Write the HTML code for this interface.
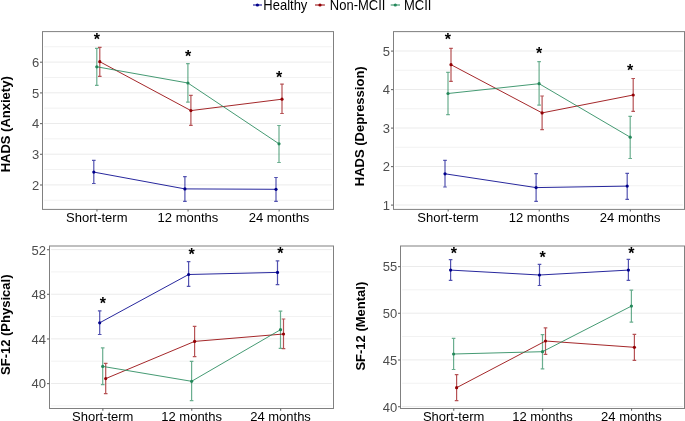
<!DOCTYPE html><html><head><meta charset="utf-8"><style>html,body{margin:0;padding:0;background:#fff;}svg{display:block;will-change:transform;}text{font-family:"Liberation Sans",sans-serif;}</style></head><body>
<svg width="685" height="421" viewBox="0 0 685 421">
<rect x="0" y="0" width="685" height="421" fill="#fff"/>
<line x1="44.1" x2="331.8" y1="200.25" y2="200.25" stroke="#F2F2F2" stroke-width="1"/>
<line x1="44.1" x2="331.8" y1="169.55" y2="169.55" stroke="#F2F2F2" stroke-width="1"/>
<line x1="44.1" x2="331.8" y1="138.85" y2="138.85" stroke="#F2F2F2" stroke-width="1"/>
<line x1="44.1" x2="331.8" y1="108.15" y2="108.15" stroke="#F2F2F2" stroke-width="1"/>
<line x1="44.1" x2="331.8" y1="77.45" y2="77.45" stroke="#F2F2F2" stroke-width="1"/>
<line x1="44.1" x2="331.8" y1="46.75" y2="46.75" stroke="#F2F2F2" stroke-width="1"/>
<line x1="44.1" x2="331.8" y1="184.9" y2="184.9" stroke="#EBEBEB" stroke-width="1"/>
<line x1="44.1" x2="331.8" y1="154.2" y2="154.2" stroke="#EBEBEB" stroke-width="1"/>
<line x1="44.1" x2="331.8" y1="123.5" y2="123.5" stroke="#EBEBEB" stroke-width="1"/>
<line x1="44.1" x2="331.8" y1="92.8" y2="92.8" stroke="#EBEBEB" stroke-width="1"/>
<line x1="44.1" x2="331.8" y1="62.1" y2="62.1" stroke="#EBEBEB" stroke-width="1"/>
<g stroke="#00008B" stroke-opacity="0.68" stroke-width="1.2" fill="none"><path d="M93.8 160.4V183.5M92 160.4H95.6M92 183.5H95.6"/></g>
<g stroke="#00008B" stroke-opacity="0.68" stroke-width="1.2" fill="none"><path d="M184.9 176.6V201.3M183.1 176.6H186.7M183.1 201.3H186.7"/></g>
<g stroke="#00008B" stroke-opacity="0.68" stroke-width="1.2" fill="none"><path d="M276 177.5V201.3M274.2 177.5H277.8M274.2 201.3H277.8"/></g>
<g stroke="#930004" stroke-opacity="0.68" stroke-width="1.2" fill="none"><path d="M99.8 47.4V76.3M98 47.4H101.6M98 76.3H101.6"/></g>
<g stroke="#930004" stroke-opacity="0.68" stroke-width="1.2" fill="none"><path d="M190.9 95.4V125.4M189.1 95.4H192.7M189.1 125.4H192.7"/></g>
<g stroke="#930004" stroke-opacity="0.68" stroke-width="1.2" fill="none"><path d="M282 84.2V113.5M280.2 84.2H283.8M280.2 113.5H283.8"/></g>
<g stroke="#24885A" stroke-opacity="0.68" stroke-width="1.2" fill="none"><path d="M96.8 48.3V85.3M95 48.3H98.6M95 85.3H98.6"/></g>
<g stroke="#24885A" stroke-opacity="0.68" stroke-width="1.2" fill="none"><path d="M187.9 63.7V102.2M186.1 63.7H189.7M186.1 102.2H189.7"/></g>
<g stroke="#24885A" stroke-opacity="0.68" stroke-width="1.2" fill="none"><path d="M279 125.5V162.5M277.2 125.5H280.8M277.2 162.5H280.8"/></g>
<polyline points="93.8,172.1 184.9,188.9 276,189.3" fill="none" stroke="#00008B" stroke-width="0.85"/>
<polyline points="99.8,61.7 190.9,110.6 282,99.2" fill="none" stroke="#930004" stroke-width="0.85"/>
<polyline points="96.8,66.8 187.9,83 279,143.8" fill="none" stroke="#24885A" stroke-width="0.85"/>
<circle cx="93.8" cy="172.1" r="1.6" fill="#00008B"/>
<circle cx="184.9" cy="188.9" r="1.6" fill="#00008B"/>
<circle cx="276" cy="189.3" r="1.6" fill="#00008B"/>
<circle cx="99.8" cy="61.7" r="1.6" fill="#930004"/>
<circle cx="190.9" cy="110.6" r="1.6" fill="#930004"/>
<circle cx="282" cy="99.2" r="1.6" fill="#930004"/>
<circle cx="96.8" cy="66.8" r="1.6" fill="#24885A"/>
<circle cx="187.9" cy="83" r="1.6" fill="#24885A"/>
<circle cx="279" cy="143.8" r="1.6" fill="#24885A"/>
<rect x="42.5" y="31.6" width="291" height="177.8" fill="none" stroke="#808080" stroke-width="1"/>
<line x1="40" x2="42.5" y1="185" y2="185" stroke="#6a6a6a" stroke-width="1.1"/>
<text transform="translate(39.3 189.8) scale(1.0000 1)" font-size="13" fill="#4D4D4D" text-anchor="end">2</text>
<line x1="40" x2="42.5" y1="154.3" y2="154.3" stroke="#6a6a6a" stroke-width="1.1"/>
<text transform="translate(39.3 159.1) scale(1.0000 1)" font-size="13" fill="#4D4D4D" text-anchor="end">3</text>
<line x1="40" x2="42.5" y1="123.6" y2="123.6" stroke="#6a6a6a" stroke-width="1.1"/>
<text transform="translate(39.3 128.4) scale(1.0000 1)" font-size="13" fill="#4D4D4D" text-anchor="end">4</text>
<line x1="40" x2="42.5" y1="92.9" y2="92.9" stroke="#6a6a6a" stroke-width="1.1"/>
<text transform="translate(39.3 97.7) scale(1.0000 1)" font-size="13" fill="#4D4D4D" text-anchor="end">5</text>
<line x1="40" x2="42.5" y1="62.2" y2="62.2" stroke="#6a6a6a" stroke-width="1.1"/>
<text transform="translate(39.3 67) scale(1.0000 1)" font-size="13" fill="#4D4D4D" text-anchor="end">6</text>
<line x1="96.95" x2="96.95" y1="209.4" y2="211.6" stroke="#6a6a6a" stroke-width="1.1"/>
<text transform="translate(96.8 222) scale(1.0000 1)" font-size="13" fill="#000" text-anchor="middle">Short-term</text>
<line x1="188.05" x2="188.05" y1="209.4" y2="211.6" stroke="#6a6a6a" stroke-width="1.1"/>
<text transform="translate(187.9 222) scale(1.0000 1)" font-size="13" fill="#000" text-anchor="middle">12 months</text>
<line x1="279.15" x2="279.15" y1="209.4" y2="211.6" stroke="#6a6a6a" stroke-width="1.1"/>
<text transform="translate(279 222) scale(1.0000 1)" font-size="13" fill="#000" text-anchor="middle">24 months</text>
<text x="96.9" y="44.98" font-size="16" font-weight="bold" fill="#000" text-anchor="middle">*</text>
<text x="188" y="61.73" font-size="16" font-weight="bold" fill="#000" text-anchor="middle">*</text>
<text x="279" y="82.58" font-size="16" font-weight="bold" fill="#000" text-anchor="middle">*</text>
<text transform="translate(10 124.3) rotate(-90)" font-size="13" font-weight="bold" fill="#000" text-anchor="middle">HADS (Anxiety)</text>
<line x1="395.1" x2="682.8" y1="185.75" y2="185.75" stroke="#F2F2F2" stroke-width="1"/>
<line x1="395.1" x2="682.8" y1="147.25" y2="147.25" stroke="#F2F2F2" stroke-width="1"/>
<line x1="395.1" x2="682.8" y1="108.75" y2="108.75" stroke="#F2F2F2" stroke-width="1"/>
<line x1="395.1" x2="682.8" y1="70.25" y2="70.25" stroke="#F2F2F2" stroke-width="1"/>
<line x1="395.1" x2="682.8" y1="31.75" y2="31.75" stroke="#F2F2F2" stroke-width="1"/>
<line x1="395.1" x2="682.8" y1="205" y2="205" stroke="#EBEBEB" stroke-width="1"/>
<line x1="395.1" x2="682.8" y1="166.5" y2="166.5" stroke="#EBEBEB" stroke-width="1"/>
<line x1="395.1" x2="682.8" y1="128" y2="128" stroke="#EBEBEB" stroke-width="1"/>
<line x1="395.1" x2="682.8" y1="89.5" y2="89.5" stroke="#EBEBEB" stroke-width="1"/>
<line x1="395.1" x2="682.8" y1="51" y2="51" stroke="#EBEBEB" stroke-width="1"/>
<g stroke="#00008B" stroke-opacity="0.68" stroke-width="1.2" fill="none"><path d="M445 160.4V187M443.2 160.4H446.8M443.2 187H446.8"/></g>
<g stroke="#00008B" stroke-opacity="0.68" stroke-width="1.2" fill="none"><path d="M536.1 173.7V201.3M534.3 173.7H537.9M534.3 201.3H537.9"/></g>
<g stroke="#00008B" stroke-opacity="0.68" stroke-width="1.2" fill="none"><path d="M627.2 173.3V199.4M625.4 173.3H629M625.4 199.4H629"/></g>
<g stroke="#930004" stroke-opacity="0.68" stroke-width="1.2" fill="none"><path d="M451 48.4V81.3M449.2 48.4H452.8M449.2 81.3H452.8"/></g>
<g stroke="#930004" stroke-opacity="0.68" stroke-width="1.2" fill="none"><path d="M542.1 96V129.6M540.3 96H543.9M540.3 129.6H543.9"/></g>
<g stroke="#930004" stroke-opacity="0.68" stroke-width="1.2" fill="none"><path d="M633.2 78.5V111.3M631.4 78.5H635M631.4 111.3H635"/></g>
<g stroke="#24885A" stroke-opacity="0.68" stroke-width="1.2" fill="none"><path d="M448 72.4V114.6M446.2 72.4H449.8M446.2 114.6H449.8"/></g>
<g stroke="#24885A" stroke-opacity="0.68" stroke-width="1.2" fill="none"><path d="M539.1 61.7V105.2M537.3 61.7H540.9M537.3 105.2H540.9"/></g>
<g stroke="#24885A" stroke-opacity="0.68" stroke-width="1.2" fill="none"><path d="M630.2 116.3V158.5M628.4 116.3H632M628.4 158.5H632"/></g>
<polyline points="445,173.8 536.1,187.6 627.2,186.1" fill="none" stroke="#00008B" stroke-width="0.85"/>
<polyline points="451,64.7 542.1,112.9 633.2,95" fill="none" stroke="#930004" stroke-width="0.85"/>
<polyline points="448,93.5 539.1,83.7 630.2,137.2" fill="none" stroke="#24885A" stroke-width="0.85"/>
<circle cx="445" cy="173.8" r="1.6" fill="#00008B"/>
<circle cx="536.1" cy="187.6" r="1.6" fill="#00008B"/>
<circle cx="627.2" cy="186.1" r="1.6" fill="#00008B"/>
<circle cx="451" cy="64.7" r="1.6" fill="#930004"/>
<circle cx="542.1" cy="112.9" r="1.6" fill="#930004"/>
<circle cx="633.2" cy="95" r="1.6" fill="#930004"/>
<circle cx="448" cy="93.5" r="1.6" fill="#24885A"/>
<circle cx="539.1" cy="83.7" r="1.6" fill="#24885A"/>
<circle cx="630.2" cy="137.2" r="1.6" fill="#24885A"/>
<rect x="393.5" y="31.6" width="291" height="177.8" fill="none" stroke="#808080" stroke-width="1"/>
<line x1="391" x2="393.5" y1="205.1" y2="205.1" stroke="#6a6a6a" stroke-width="1.1"/>
<text transform="translate(389.9 209.9) scale(1.0000 1)" font-size="13" fill="#4D4D4D" text-anchor="end">1</text>
<line x1="391" x2="393.5" y1="166.6" y2="166.6" stroke="#6a6a6a" stroke-width="1.1"/>
<text transform="translate(389.9 171.4) scale(1.0000 1)" font-size="13" fill="#4D4D4D" text-anchor="end">2</text>
<line x1="391" x2="393.5" y1="128.1" y2="128.1" stroke="#6a6a6a" stroke-width="1.1"/>
<text transform="translate(389.9 132.9) scale(1.0000 1)" font-size="13" fill="#4D4D4D" text-anchor="end">3</text>
<line x1="391" x2="393.5" y1="89.6" y2="89.6" stroke="#6a6a6a" stroke-width="1.1"/>
<text transform="translate(389.9 94.4) scale(1.0000 1)" font-size="13" fill="#4D4D4D" text-anchor="end">4</text>
<line x1="391" x2="393.5" y1="51.1" y2="51.1" stroke="#6a6a6a" stroke-width="1.1"/>
<text transform="translate(389.9 55.9) scale(1.0000 1)" font-size="13" fill="#4D4D4D" text-anchor="end">5</text>
<line x1="448.15" x2="448.15" y1="209.4" y2="211.6" stroke="#6a6a6a" stroke-width="1.1"/>
<text transform="translate(448 222) scale(1.0000 1)" font-size="13" fill="#000" text-anchor="middle">Short-term</text>
<line x1="539.25" x2="539.25" y1="209.4" y2="211.6" stroke="#6a6a6a" stroke-width="1.1"/>
<text transform="translate(539.1 222) scale(1.0000 1)" font-size="13" fill="#000" text-anchor="middle">12 months</text>
<line x1="630.35" x2="630.35" y1="209.4" y2="211.6" stroke="#6a6a6a" stroke-width="1.1"/>
<text transform="translate(630.2 222) scale(1.0000 1)" font-size="13" fill="#000" text-anchor="middle">24 months</text>
<text x="447.9" y="44.98" font-size="16" font-weight="bold" fill="#000" text-anchor="middle">*</text>
<text x="539" y="58.68" font-size="16" font-weight="bold" fill="#000" text-anchor="middle">*</text>
<text x="630" y="75.78" font-size="16" font-weight="bold" fill="#000" text-anchor="middle">*</text>
<text transform="translate(364.4 126.3) rotate(-90)" font-size="13" font-weight="bold" fill="#000" text-anchor="middle">HADS (Depression)</text>
<line x1="51.1" x2="331.8" y1="405.81" y2="405.81" stroke="#F2F2F2" stroke-width="1"/>
<line x1="51.1" x2="331.8" y1="361.18" y2="361.18" stroke="#F2F2F2" stroke-width="1"/>
<line x1="51.1" x2="331.8" y1="316.55" y2="316.55" stroke="#F2F2F2" stroke-width="1"/>
<line x1="51.1" x2="331.8" y1="271.92" y2="271.92" stroke="#F2F2F2" stroke-width="1"/>
<line x1="51.1" x2="331.8" y1="383.5" y2="383.5" stroke="#EBEBEB" stroke-width="1"/>
<line x1="51.1" x2="331.8" y1="338.86" y2="338.86" stroke="#EBEBEB" stroke-width="1"/>
<line x1="51.1" x2="331.8" y1="294.23" y2="294.23" stroke="#EBEBEB" stroke-width="1"/>
<line x1="51.1" x2="331.8" y1="249.6" y2="249.6" stroke="#EBEBEB" stroke-width="1"/>
<g stroke="#00008B" stroke-opacity="0.68" stroke-width="1.2" fill="none"><path d="M99.7 310.8V334.5M97.9 310.8H101.5M97.9 334.5H101.5"/></g>
<g stroke="#00008B" stroke-opacity="0.68" stroke-width="1.2" fill="none"><path d="M188.6 261.7V286.3M186.8 261.7H190.4M186.8 286.3H190.4"/></g>
<g stroke="#00008B" stroke-opacity="0.68" stroke-width="1.2" fill="none"><path d="M277.5 260.8V284.6M275.7 260.8H279.3M275.7 284.6H279.3"/></g>
<g stroke="#930004" stroke-opacity="0.68" stroke-width="1.2" fill="none"><path d="M105.7 363.3V393.6M103.9 363.3H107.5M103.9 393.6H107.5"/></g>
<g stroke="#930004" stroke-opacity="0.68" stroke-width="1.2" fill="none"><path d="M194.6 326.3V356.6M192.8 326.3H196.4M192.8 356.6H196.4"/></g>
<g stroke="#930004" stroke-opacity="0.68" stroke-width="1.2" fill="none"><path d="M283.5 319V348.6M281.7 319H285.3M281.7 348.6H285.3"/></g>
<g stroke="#24885A" stroke-opacity="0.68" stroke-width="1.2" fill="none"><path d="M102.7 347.9V384.7M100.9 347.9H104.5M100.9 384.7H104.5"/></g>
<g stroke="#24885A" stroke-opacity="0.68" stroke-width="1.2" fill="none"><path d="M191.6 361.3V400.6M189.8 361.3H193.4M189.8 400.6H193.4"/></g>
<g stroke="#24885A" stroke-opacity="0.68" stroke-width="1.2" fill="none"><path d="M280.5 311.1V348.3M278.7 311.1H282.3M278.7 348.3H282.3"/></g>
<polyline points="99.7,322.8 188.6,274.5 277.5,272.4" fill="none" stroke="#00008B" stroke-width="0.85"/>
<polyline points="105.7,378.6 194.6,341.4 283.5,334" fill="none" stroke="#930004" stroke-width="0.85"/>
<polyline points="102.7,366.4 191.6,381.3 280.5,329.7" fill="none" stroke="#24885A" stroke-width="0.85"/>
<circle cx="99.7" cy="322.8" r="1.6" fill="#00008B"/>
<circle cx="188.6" cy="274.5" r="1.6" fill="#00008B"/>
<circle cx="277.5" cy="272.4" r="1.6" fill="#00008B"/>
<circle cx="105.7" cy="378.6" r="1.6" fill="#930004"/>
<circle cx="194.6" cy="341.4" r="1.6" fill="#930004"/>
<circle cx="283.5" cy="334" r="1.6" fill="#930004"/>
<circle cx="102.7" cy="366.4" r="1.6" fill="#24885A"/>
<circle cx="191.6" cy="381.3" r="1.6" fill="#24885A"/>
<circle cx="280.5" cy="329.7" r="1.6" fill="#24885A"/>
<rect x="49.5" y="246" width="284" height="162.5" fill="none" stroke="#808080" stroke-width="1"/>
<line x1="47" x2="49.5" y1="383.6" y2="383.6" stroke="#6a6a6a" stroke-width="1.1"/>
<text transform="translate(45.9 388.4) scale(1.0000 1)" font-size="13" fill="#4D4D4D" text-anchor="end">40</text>
<line x1="47" x2="49.5" y1="338.96" y2="338.96" stroke="#6a6a6a" stroke-width="1.1"/>
<text transform="translate(45.9 343.76) scale(1.0000 1)" font-size="13" fill="#4D4D4D" text-anchor="end">44</text>
<line x1="47" x2="49.5" y1="294.33" y2="294.33" stroke="#6a6a6a" stroke-width="1.1"/>
<text transform="translate(45.9 299.13) scale(1.0000 1)" font-size="13" fill="#4D4D4D" text-anchor="end">48</text>
<line x1="47" x2="49.5" y1="249.7" y2="249.7" stroke="#6a6a6a" stroke-width="1.1"/>
<text transform="translate(45.9 254.5) scale(1.0000 1)" font-size="13" fill="#4D4D4D" text-anchor="end">52</text>
<line x1="102.85" x2="102.85" y1="408.5" y2="410.7" stroke="#6a6a6a" stroke-width="1.1"/>
<text transform="translate(102.7 420.9) scale(1.0000 1)" font-size="13" fill="#000" text-anchor="middle">Short-term</text>
<line x1="191.75" x2="191.75" y1="408.5" y2="410.7" stroke="#6a6a6a" stroke-width="1.1"/>
<text transform="translate(191.6 420.9) scale(1.0000 1)" font-size="13" fill="#000" text-anchor="middle">12 months</text>
<line x1="280.65" x2="280.65" y1="408.5" y2="410.7" stroke="#6a6a6a" stroke-width="1.1"/>
<text transform="translate(280.5 420.9) scale(1.0000 1)" font-size="13" fill="#000" text-anchor="middle">24 months</text>
<text x="102.85" y="308.88" font-size="16" font-weight="bold" fill="#000" text-anchor="middle">*</text>
<text x="191.6" y="259.73" font-size="16" font-weight="bold" fill="#000" text-anchor="middle">*</text>
<text x="280.45" y="258.78" font-size="16" font-weight="bold" fill="#000" text-anchor="middle">*</text>
<text transform="translate(10 324.75) rotate(-90)" font-size="13" font-weight="bold" fill="#000" text-anchor="middle">SF-12 (Physical)</text>
<line x1="402.1" x2="682.8" y1="383.25" y2="383.25" stroke="#F2F2F2" stroke-width="1"/>
<line x1="402.1" x2="682.8" y1="336.55" y2="336.55" stroke="#F2F2F2" stroke-width="1"/>
<line x1="402.1" x2="682.8" y1="289.85" y2="289.85" stroke="#F2F2F2" stroke-width="1"/>
<line x1="402.1" x2="682.8" y1="406.6" y2="406.6" stroke="#EBEBEB" stroke-width="1"/>
<line x1="402.1" x2="682.8" y1="359.9" y2="359.9" stroke="#EBEBEB" stroke-width="1"/>
<line x1="402.1" x2="682.8" y1="313.2" y2="313.2" stroke="#EBEBEB" stroke-width="1"/>
<line x1="402.1" x2="682.8" y1="266.5" y2="266.5" stroke="#EBEBEB" stroke-width="1"/>
<g stroke="#00008B" stroke-opacity="0.68" stroke-width="1.2" fill="none"><path d="M450.6 259.6V280.4M448.8 259.6H452.4M448.8 280.4H452.4"/></g>
<g stroke="#00008B" stroke-opacity="0.68" stroke-width="1.2" fill="none"><path d="M539.5 264.4V285.5M537.7 264.4H541.3M537.7 285.5H541.3"/></g>
<g stroke="#00008B" stroke-opacity="0.68" stroke-width="1.2" fill="none"><path d="M628.4 259.4V280.4M626.6 259.4H630.2M626.6 280.4H630.2"/></g>
<g stroke="#930004" stroke-opacity="0.68" stroke-width="1.2" fill="none"><path d="M456.6 374.6V400.7M454.8 374.6H458.4M454.8 400.7H458.4"/></g>
<g stroke="#930004" stroke-opacity="0.68" stroke-width="1.2" fill="none"><path d="M545.5 327.8V354.3M543.7 327.8H547.3M543.7 354.3H547.3"/></g>
<g stroke="#930004" stroke-opacity="0.68" stroke-width="1.2" fill="none"><path d="M634.4 334.3V360.3M632.6 334.3H636.2M632.6 360.3H636.2"/></g>
<g stroke="#24885A" stroke-opacity="0.68" stroke-width="1.2" fill="none"><path d="M453.6 338.3V369.5M451.8 338.3H455.4M451.8 369.5H455.4"/></g>
<g stroke="#24885A" stroke-opacity="0.68" stroke-width="1.2" fill="none"><path d="M542.5 334.6V368.9M540.7 334.6H544.3M540.7 368.9H544.3"/></g>
<g stroke="#24885A" stroke-opacity="0.68" stroke-width="1.2" fill="none"><path d="M631.4 290.1V322.1M629.6 290.1H633.2M629.6 322.1H633.2"/></g>
<polyline points="450.6,270.1 539.5,275 628.4,270.1" fill="none" stroke="#00008B" stroke-width="0.85"/>
<polyline points="456.6,387.7 545.5,341 634.4,347.3" fill="none" stroke="#930004" stroke-width="0.85"/>
<polyline points="453.6,354 542.5,351.7 631.4,306.1" fill="none" stroke="#24885A" stroke-width="0.85"/>
<circle cx="450.6" cy="270.1" r="1.6" fill="#00008B"/>
<circle cx="539.5" cy="275" r="1.6" fill="#00008B"/>
<circle cx="628.4" cy="270.1" r="1.6" fill="#00008B"/>
<circle cx="456.6" cy="387.7" r="1.6" fill="#930004"/>
<circle cx="545.5" cy="341" r="1.6" fill="#930004"/>
<circle cx="634.4" cy="347.3" r="1.6" fill="#930004"/>
<circle cx="453.6" cy="354" r="1.6" fill="#24885A"/>
<circle cx="542.5" cy="351.7" r="1.6" fill="#24885A"/>
<circle cx="631.4" cy="306.1" r="1.6" fill="#24885A"/>
<rect x="400.5" y="246" width="284" height="162.5" fill="none" stroke="#808080" stroke-width="1"/>
<line x1="398" x2="400.5" y1="406.7" y2="406.7" stroke="#6a6a6a" stroke-width="1.1"/>
<text transform="translate(397.3 411.5) scale(1.0000 1)" font-size="13" fill="#4D4D4D" text-anchor="end">40</text>
<line x1="398" x2="400.5" y1="360" y2="360" stroke="#6a6a6a" stroke-width="1.1"/>
<text transform="translate(397.3 364.8) scale(1.0000 1)" font-size="13" fill="#4D4D4D" text-anchor="end">45</text>
<line x1="398" x2="400.5" y1="313.3" y2="313.3" stroke="#6a6a6a" stroke-width="1.1"/>
<text transform="translate(397.3 318.1) scale(1.0000 1)" font-size="13" fill="#4D4D4D" text-anchor="end">50</text>
<line x1="398" x2="400.5" y1="266.6" y2="266.6" stroke="#6a6a6a" stroke-width="1.1"/>
<text transform="translate(397.3 271.4) scale(1.0000 1)" font-size="13" fill="#4D4D4D" text-anchor="end">55</text>
<line x1="453.75" x2="453.75" y1="408.5" y2="410.7" stroke="#6a6a6a" stroke-width="1.1"/>
<text transform="translate(453.6 420.9) scale(1.0000 1)" font-size="13" fill="#000" text-anchor="middle">Short-term</text>
<line x1="542.65" x2="542.65" y1="408.5" y2="410.7" stroke="#6a6a6a" stroke-width="1.1"/>
<text transform="translate(542.5 420.9) scale(1.0000 1)" font-size="13" fill="#000" text-anchor="middle">12 months</text>
<line x1="631.55" x2="631.55" y1="408.5" y2="410.7" stroke="#6a6a6a" stroke-width="1.1"/>
<text transform="translate(631.4 420.9) scale(1.0000 1)" font-size="13" fill="#000" text-anchor="middle">24 months</text>
<text x="453.8" y="258.93" font-size="16" font-weight="bold" fill="#000" text-anchor="middle">*</text>
<text x="542.55" y="262.98" font-size="16" font-weight="bold" fill="#000" text-anchor="middle">*</text>
<text x="631.4" y="258.73" font-size="16" font-weight="bold" fill="#000" text-anchor="middle">*</text>
<text transform="translate(365.4 326.15) rotate(-90)" font-size="13" font-weight="bold" fill="#000" text-anchor="middle">SF-12 (Mental)</text>
<line x1="253" x2="262" y1="5" y2="5" stroke="#00008B" stroke-opacity="0.5" stroke-width="2"/>
<circle cx="257.4" cy="5" r="1.6" fill="#00008B"/>
<text transform="translate(263.3 9.6) scale(0.9286 1)" font-size="14" fill="#000">Healthy</text>
<line x1="315" x2="324.9" y1="5" y2="5" stroke="#930004" stroke-opacity="0.5" stroke-width="2"/>
<circle cx="320" cy="5" r="1.6" fill="#930004"/>
<text transform="translate(329.8 9.6) scale(0.9286 1)" font-size="14" fill="#000">Non-MCII</text>
<line x1="390.7" x2="400" y1="5" y2="5" stroke="#24885A" stroke-opacity="0.5" stroke-width="2"/>
<circle cx="395.3" cy="5" r="1.6" fill="#24885A"/>
<text transform="translate(404 9.6) scale(0.9286 1)" font-size="14" fill="#000">MCII</text>
</svg></body></html>
